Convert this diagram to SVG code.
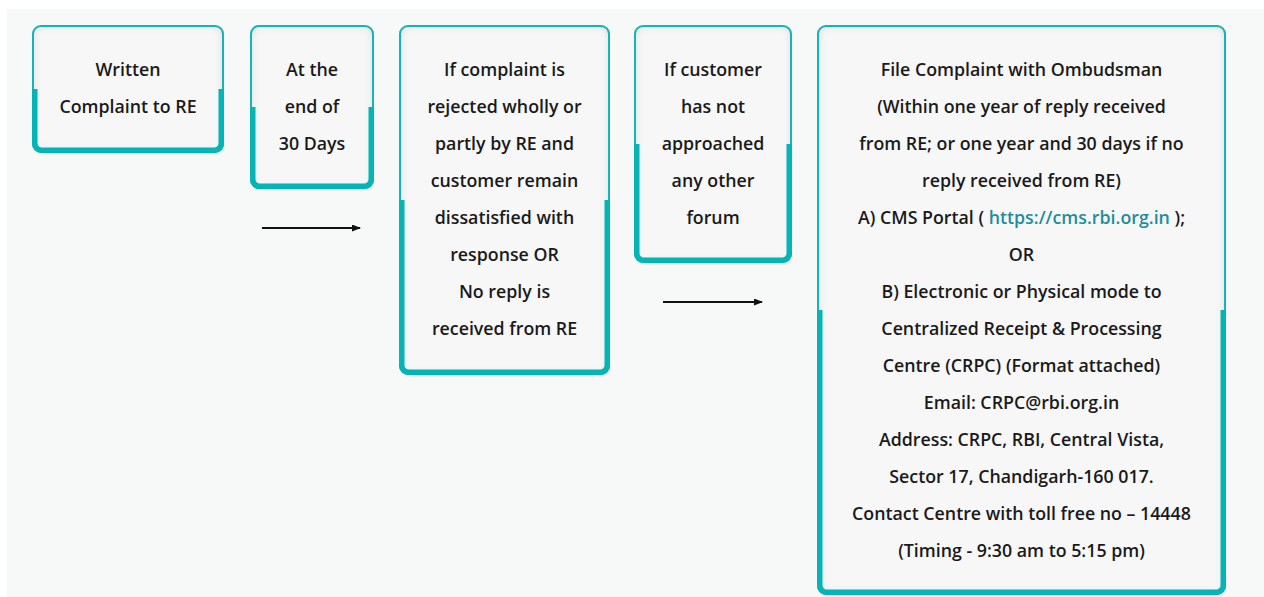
<svg xmlns="http://www.w3.org/2000/svg" width="1264" height="597" viewBox="0 0 1264 597">
<style>
.bg{fill:#f7f8f8}
.card{fill:#f7f7f7;filter:url(#inset)}
.thin{fill:none;stroke:#13b5b7;stroke-width:2}
.thick{fill:none;stroke:#05b4b5;stroke-width:5.5}
text{font-family:"Open Sans","Liberation Sans",sans-serif;font-size:17.8px;font-weight:600;fill:#1a1a1a;text-anchor:middle}
.link{fill:#1f8d9c}
.conn{stroke:#111;stroke-width:2;fill:none;marker-end:url(#ah)}
</style>
<defs>
<filter id="inset" x="-5%" y="-5%" width="110%" height="110%">
<feFlood flood-color="#000" flood-opacity="0.32"/>
<feComposite in2="SourceAlpha" operator="out"/>
<feGaussianBlur stdDeviation="5"/>
<feComposite in2="SourceAlpha" operator="in" result="sh"/>
<feMerge><feMergeNode in="SourceGraphic"/><feMergeNode in="sh"/></feMerge>
</filter>
<marker id="ah" markerWidth="9" markerHeight="7" refX="8" refY="3.5" orient="auto" markerUnits="userSpaceOnUse">
<path d="M0,0 L9,3.5 L0,7 Z" fill="#111"/>
</marker>
</defs>
<rect class="bg" x="7" y="9" width="1257" height="588"/>

<g id="connectors">
<line class="conn" x1="262" y1="228" x2="360" y2="228"/>
<line class="conn" x1="663" y1="302" x2="762" y2="302"/>
</g>

<g id="node1">
<rect class="card" x="32" y="25" width="192" height="128" rx="9"/>
<rect class="thin" x="33" y="26" width="190" height="126" rx="8"/>
<path class="thick" d="M34.75,89 V143.25 A7,7 0 0 0 41.75,150.25 H214.25 A7,7 0 0 0 221.25,143.25 V89"/>
<text x="128" y="76">Written</text>
<text x="128" y="113">Complaint to RE</text>
</g>

<g id="node2">
<rect class="card" x="250" y="25" width="124" height="164" rx="9"/>
<rect class="thin" x="251" y="26" width="122" height="162" rx="8"/>
<path class="thick" d="M252.75,107 V179.25 A7,7 0 0 0 259.75,186.25 H364.25 A7,7 0 0 0 371.25,179.25 V107"/>
<text x="312" y="76">At the</text>
<text x="312" y="113">end of</text>
<text x="312" y="150">30 Days</text>
</g>

<g id="node3">
<rect class="card" x="399" y="25" width="211" height="350" rx="9"/>
<rect class="thin" x="400" y="26" width="209" height="348" rx="8"/>
<path class="thick" d="M401.75,200 V365.25 A7,7 0 0 0 408.75,372.25 H600.25 A7,7 0 0 0 607.25,365.25 V200"/>
<text x="504.5" y="76">If complaint is</text>
<text x="504.5" y="113">rejected wholly or</text>
<text x="504.5" y="150">partly by RE and</text>
<text x="504.5" y="187">customer remain</text>
<text x="504.5" y="224">dissatisfied with</text>
<text x="504.5" y="261">response OR</text>
<text x="504.5" y="298">No reply is</text>
<text x="504.5" y="335">received from RE</text>
</g>

<g id="node4">
<rect class="card" x="634" y="25" width="158" height="238" rx="9"/>
<rect class="thin" x="635" y="26" width="156" height="236" rx="8"/>
<path class="thick" d="M636.75,144 V253.25 A7,7 0 0 0 643.75,260.25 H782.25 A7,7 0 0 0 789.25,253.25 V144"/>
<text x="713" y="76">If customer</text>
<text x="713" y="113">has not</text>
<text x="713" y="150">approached</text>
<text x="713" y="187">any other</text>
<text x="713" y="224">forum</text>
</g>

<g id="node5">
<rect class="card" x="817" y="25" width="409" height="570" rx="9"/>
<rect class="thin" x="818" y="26" width="407" height="568" rx="8"/>
<path class="thick" d="M819.75,310 V585.25 A7,7 0 0 0 826.75,592.25 H1216.25 A7,7 0 0 0 1223.25,585.25 V310"/>
<text x="1021.5" y="76">File Complaint with Ombudsman</text>
<text x="1021.5" y="113">(Within one year of reply received</text>
<text x="1021.5" y="150">from RE; or one year and 30 days if no</text>
<text x="1021.5" y="187">reply received from RE)</text>
<text x="1021.5" y="224">A) CMS Portal ( <tspan class="link">https://cms.rbi.org.in</tspan> );</text>
<text x="1021.5" y="261">OR</text>
<text x="1021.5" y="298">B) Electronic or Physical mode to</text>
<text x="1021.5" y="335">Centralized Receipt &amp; Processing</text>
<text x="1021.5" y="372">Centre (CRPC) (Format attached)</text>
<text x="1021.5" y="409">Email: CRPC@rbi.org.in</text>
<text x="1021.5" y="446">Address: CRPC, RBI, Central Vista,</text>
<text x="1021.5" y="483">Sector 17, Chandigarh-160 017.</text>
<text x="1021.5" y="520">Contact Centre with toll free no – 14448</text>
<text x="1021.5" y="557">(Timing - 9:30 am to 5:15 pm)</text>
</g>
</svg>
